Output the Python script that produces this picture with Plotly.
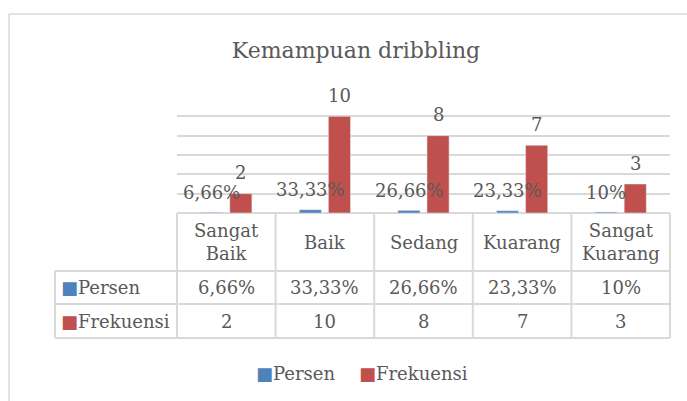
import plotly.graph_objects as go

# ---- data ----
categories = ["Sangat Baik", "Baik", "Sedang", "Kuarang", "Sangat Kuarang"]
category_labels = ["Sangat<br>Baik", "Baik", "Sedang", "Kuarang", "Sangat<br>Kuarang"]
persen = [6.66, 33.33, 26.66, 23.33, 10]
frekuensi = [2, 10, 8, 7, 3]
series_names = ["Persen", "Frekuensi"]
title_text = "Kemampuan dribbling"

# ---- style ----
W, H = 687, 401
BLUE = "#4f81bd"
RED = "#c0504d"
TXT = "#595959"
GRID = "#d9d9d9"
FONT = "DejaVu Serif"
FS = 18

def px(x):
    return x / W

def py(y):
    return 1 - y / H

PLOT_L, PLOT_R = 177, 670
BASE_Y, TOP_Y = 213, 97
HEAD_L = 55
ROW_Y = [213, 271, 304, 338]
LEGEND_X = [254, 357]
LEGEND_Y = 373

def fmt_pct(v):
    s = f"{v:.2f}".replace(".", ",")
    if s.endswith(",00"):
        s = s[:-3]
    return s + "%"

persen_labels = [fmt_pct(v) for v in persen]
colors = [BLUE, RED]

fig = go.Figure()
fig.add_trace(go.Bar(x=categories, y=[v / 100 for v in persen], name=series_names[0],
                     marker_color=BLUE, hoverinfo="skip"))
fig.add_trace(go.Bar(x=categories, y=frekuensi, name=series_names[1],
                     marker_color=RED, hoverinfo="skip"))

font = dict(family=FONT, size=FS, color=TXT)
annotations = []
# data labels
for c, v, lab in zip(categories, persen, persen_labels):
    annotations.append(dict(x=c, y=v / 100, xref="x", yref="y", text=lab, showarrow=False,
                            xshift=-14.5, yshift=20, yanchor="middle", font=font))
for c, v in zip(categories, frekuensi):
    annotations.append(dict(x=c, y=v, xref="x", yref="y", text=str(v), showarrow=False,
                            xshift=14.5, yshift=21, yanchor="middle", font=font))

# data table text
def row_mid(i):
    return py((ROW_Y[i] + ROW_Y[i + 1]) / 2)

for c, lab in zip(categories, category_labels):
    annotations.append(dict(x=c, y=row_mid(0), xref="x", yref="paper", text=lab,
                            showarrow=False, yanchor="middle", font=font))
for c, lab in zip(categories, persen_labels):
    annotations.append(dict(x=c, y=row_mid(1), xref="x", yref="paper", text=lab,
                            showarrow=False, yanchor="middle", font=font))
for c, v in zip(categories, frekuensi):
    annotations.append(dict(x=c, y=row_mid(2), xref="x", yref="paper", text=str(v),
                            showarrow=False, yanchor="middle", font=font))
for i, (name, col) in enumerate(zip(series_names, colors)):
    annotations.append(dict(x=px(59), y=row_mid(i + 1), xref="paper", yref="paper",
                            text=f"<span style='color:{col}'>■</span>{name}",
                            showarrow=False, xanchor="left", yanchor="middle", font=font))

# legend
for name, col, lx in zip(series_names, colors, LEGEND_X):
    annotations.append(dict(x=px(lx), y=py(LEGEND_Y), xref="paper", yref="paper",
                            text=f"<span style='color:{col}'>■</span>{name}",
                            showarrow=False, xanchor="left", yanchor="middle", font=font))

# shapes: table grid and frame
shapes = []
line = dict(color=GRID, width=2)
ncat = len(categories)
col_w = (PLOT_R - PLOT_L) / ncat
for i in range(1, 4):
    shapes.append(dict(type="line", xref="paper", yref="paper",
                       x0=px(HEAD_L), x1=px(PLOT_R), y0=py(ROW_Y[i]), y1=py(ROW_Y[i]), line=line))
shapes.append(dict(type="line", xref="paper", yref="paper",
                   x0=px(HEAD_L), x1=px(HEAD_L), y0=py(ROW_Y[1]), y1=py(ROW_Y[3]), line=line))
for i in range(ncat + 1):
    xx = PLOT_L + col_w * i
    shapes.append(dict(type="line", xref="paper", yref="paper",
                       x0=px(xx), x1=px(xx), y0=py(ROW_Y[0]), y1=py(ROW_Y[3]), line=line))
# chart frame
shapes.append(dict(type="line", xref="paper", yref="paper",
                   x0=px(9), x1=px(700), y0=py(14), y1=py(14), line=dict(color=GRID, width=1.5)))
shapes.append(dict(type="line", xref="paper", yref="paper",
                   x0=px(9), x1=px(9), y0=py(14), y1=py(420), line=dict(color=GRID, width=1.5)))

fig.update_layout(
    width=W, height=H,
    margin=dict(l=0, r=0, t=0, b=0, pad=0),
    paper_bgcolor="white", plot_bgcolor="white",
    barmode="group", bargap=0.41, bargroupgap=0.24,
    title=dict(text=title_text, x=px(356), y=py(50), xanchor="center", yanchor="middle",
               font=dict(family=FONT, size=22, color=TXT)),
    xaxis=dict(domain=[px(PLOT_L), px(PLOT_R)], showticklabels=False, showgrid=False,
               zeroline=False, showline=False, ticks=""),
    yaxis=dict(domain=[py(BASE_Y), py(TOP_Y)], range=[0, 12], dtick=2, showticklabels=False,
               showgrid=True, gridcolor=GRID, gridwidth=2, zeroline=True, zerolinecolor=GRID,
               zerolinewidth=2, showline=False, ticks=""),
    showlegend=False,
    annotations=annotations,
    shapes=shapes,
)

fig.write_html("out.html", config={"displayModeBar": False},
               post_script="document.body.style.margin='0';")
